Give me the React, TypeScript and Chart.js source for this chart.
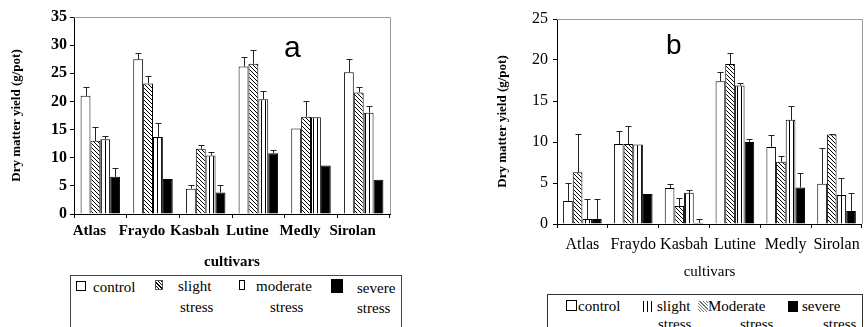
import React, { useEffect, useRef } from "react";
import { Chart, registerables } from "chart.js";
Chart.register(...registerables);

const cultivars = ["Atlas", "Fraydo", "Kasbah", "Lutine", "Medly", "Sirolan"];
const seriesNames = ["control", "slight stress", "moderate stress", "severe stress"];

// Panel a values (g/pot) and upper error bars
const aControl = [21.0, 27.5, 4.5, 26.2, 15.2, 25.2];
const aControlErr = [1.6, 1.1, 0.7, 1.7, 0, 2.3];
const aSlight = [13.0, 23.2, 11.6, 26.7, 17.3, 21.6];
const aSlightErr = [2.5, 1.3, 0.6, 2.5, 2.8, 1.0];
const aModerate = [13.3, 13.7, 10.4, 20.4, 17.2, 18.0];
const aModerateErr = [0.6, 2.4, 0.6, 1.5, 0, 1.2];
const aSevere = [6.6, 6.2, 3.8, 10.8, 8.6, 6.1];
const aSevereErr = [1.6, 0, 1.4, 0.6, 0, 0];

// Panel b values (g/pot) and upper error bars
const bControl = [2.8, 9.75, 4.4, 17.4, 9.4, 4.9];
const bControlErr = [2.2, 1.6, 0.5, 1.1, 1.5, 4.4];
const bSlight = [6.3, 9.75, 2.2, 19.5, 7.6, 10.9];
const bSlightErr = [4.7, 2.2, 1.0, 1.4, 0.7, 0.1];
const bModerate = [0.6, 9.7, 3.8, 16.9, 12.7, 3.55];
const bModerateErr = [2.5, 0, 0.4, 0.3, 1.7, 2.1];
const bSevere = [0.6, 3.65, 0.15, 10.0, 4.45, 1.6];
const bSevereErr = [2.5, 0, 0.4, 0.4, 1.8, 2.2];

const aTicks = [0, 5, 10, 15, 20, 25, 30, 35];
const bTicks = [0, 5, 10, 15, 20, 25];

const SERIF = '"Liberation Serif", "Times New Roman", serif';
const SANS = '"Liberation Sans", Arial, sans-serif';

function makePattern(kind: string): CanvasPattern | string {
  const c = document.createElement("canvas");
  const ctx = c.getContext("2d")!;
  if (kind === "diag") {
    c.width = 4; c.height = 4;
    ctx.fillStyle = "#fff"; ctx.fillRect(0, 0, 4, 4);
    ctx.strokeStyle = "#000"; ctx.lineWidth = 1;
    ctx.beginPath();
    ctx.moveTo(-1, -1); ctx.lineTo(5, 5);
    ctx.moveTo(-1, 3); ctx.lineTo(1, 5);
    ctx.moveTo(3, -1); ctx.lineTo(5, 1);
    ctx.stroke();
  } else if (kind === "vert") {
    c.width = 4; c.height = 2;
    ctx.fillStyle = "#fff"; ctx.fillRect(0, 0, 4, 2);
    ctx.fillStyle = "#000"; ctx.fillRect(1, 0, 1, 2);
  } else {
    return "#fff";
  }
  return ctx.createPattern(c, "repeat")!;
}

type PanelSpec = {
  values: number[][];
  errors: number[][];
  ticks: number[];
  max: number;
  padTop: number;
  padRight: number;
  yWidth: number;
  xHeight: number;
  yTitlePad: number;
  yTickPad: number;
  xTickFont: any;
  xTickPad: number;
  xLabelOffset: number;
  xTitleFont: any;
  yTickFont: any;
  catPct: number;
};

function buildConfig(p: PanelSpec): any {
  const fills = [makePattern("none"), makePattern("diag"), makePattern("vert"), "#000"];
  const errPlugin = {
    id: "errbars",
    afterDatasetsDraw(chart: any) {
      const ctx = chart.ctx;
      const yScale = chart.scales.y;
      ctx.save();
      ctx.strokeStyle = "#222";
      ctx.lineWidth = 1;
      p.errors.forEach((errs, di) => {
        const meta = chart.getDatasetMeta(di);
        errs.forEach((e, i) => {
          if (!e) return;
          const bar = meta.data[i];
          const x = Math.round(bar.x) + 0.5;
          const yTop = yScale.getPixelForValue(p.values[di][i]);
          const yE = Math.round(yScale.getPixelForValue(p.values[di][i] + e)) + 0.5;
          ctx.beginPath();
          ctx.moveTo(x, yTop);
          ctx.lineTo(x, yE);
          ctx.moveTo(x - 3, yE);
          ctx.lineTo(x + 3, yE);
          ctx.stroke();
        });
      });
      ctx.restore();
    },
  };
  const framePlugin = {
    id: "frame",
    beforeDatasetsDraw(chart: any) {
      const { ctx, chartArea: a } = chart;
      ctx.save();
      ctx.strokeStyle = "#9a9a9a";
      ctx.lineWidth = 1;
      ctx.beginPath();
      ctx.moveTo(Math.round(a.left), Math.round(a.top) + 0.5);
      ctx.lineTo(Math.round(a.right) + 0.5, Math.round(a.top) + 0.5);
      ctx.lineTo(Math.round(a.right) + 0.5, Math.round(a.bottom));
      ctx.stroke();
      ctx.restore();
    },
  };
  return {
    type: "bar",
    data: {
      labels: cultivars,
      datasets: p.values.map((v, i) => ({
        label: seriesNames[i],
        data: v,
        backgroundColor: fills[i],
        borderColor: "#000",
        borderWidth: 1,
        borderSkipped: "bottom",
        barPercentage: 1.0,
        categoryPercentage: p.catPct,
      })),
    },
    options: {
      animation: false,
      responsive: false,
      devicePixelRatio: 1,
      layout: { padding: { top: p.padTop, right: p.padRight, left: 0, bottom: 0 } },
      plugins: { legend: { display: false }, tooltip: { enabled: false } },
      scales: {
        x: {
          grid: { drawOnChartArea: false, drawTicks: true, tickLength: 4, color: "#000", offset: true },
          border: { color: "#000", width: 1 },
          ticks: {
            color: "#000",
            font: p.xTickFont,
            padding: p.xTickPad,
            labelOffset: p.xLabelOffset,
            autoSkip: false,
            maxRotation: 0,
            minRotation: 0,
          },
          title: {
            display: true,
            text: "cultivars",
            color: "#000",
            font: p.xTitleFont,
            padding: { top: 0, bottom: 4 },
          },
          afterFit: (s: any) => { s.height = p.xHeight; },
        },
        y: {
          min: 0,
          max: p.max,
          afterBuildTicks: (s: any) => { s.ticks = p.ticks.map((v) => ({ value: v })); },
          grid: { drawOnChartArea: false, drawTicks: true, tickLength: 4, color: "#000" },
          border: { color: "#000", width: 1 },
          ticks: { color: "#000", font: p.yTickFont, padding: p.yTickPad },
          title: {
            display: true,
            text: "Dry matter yield (g/pot)",
            color: "#000",
            font: { family: SERIF, size: 13, weight: "bold" },
            padding: { top: p.yTitlePad, bottom: 0 },
          },
          afterFit: (s: any) => { s.width = p.yWidth; },
        },
      },
    },
    plugins: [framePlugin, errPlugin],
  };
}

function ChartCanvas({ spec, width, height, style }: { spec: PanelSpec; width: number; height: number; style: React.CSSProperties }) {
  const ref = useRef<HTMLCanvasElement>(null);
  useEffect(() => {
    const chart = new Chart(ref.current!, buildConfig(spec));
    return () => chart.destroy();
  }, []);
  return <canvas ref={ref} width={width} height={height} style={{ position: "absolute", width, height, ...style }} />;
}

const abs = (left: number, top: number, extra: React.CSSProperties = {}): React.CSSProperties => ({
  position: "absolute", left, top, ...extra,
});

const diagCss = "repeating-linear-gradient(45deg, #fff 0px, #fff 1.5px, #000 1.5px, #000 2.5px)";
const diagFineCss = "repeating-linear-gradient(45deg, #fff 0px, #fff 1.5px, #777 1.5px, #777 2.3px)";

export default function App() {
  useEffect(() => {
    document.body.style.margin = "0";
  }, []);

  const specA: PanelSpec = {
    values: [aControl, aSlight, aModerate, aSevere],
    errors: [aControlErr, aSlightErr, aModerateErr, aSevereErr],
    ticks: aTicks,
    max: 35,
    padTop: 17,
    padRight: 20,
    yWidth: 74,
    xHeight: 61,
    yTitlePad: 9,
    yTickPad: 3,
    xTickFont: { family: SERIF, size: 15, weight: "bold" },
    xTickPad: 4,
    xLabelOffset: -11,
    xTitleFont: { family: SERIF, size: 15, weight: "bold" },
    yTickFont: { family: SERIF, size: 16, weight: "bold" },
    catPct: 0.75,
  };
  const specB: PanelSpec = {
    values: [bControl, bSlight, bModerate, bSevere],
    errors: [bControlErr, bSlightErr, bModerateErr, bSevereErr],
    ticks: bTicks,
    max: 25,
    padTop: 19,
    padRight: 4,
    yWidth: 117,
    xHeight: 61,
    yTitlePad: 55,
    yTickPad: 5,
    xTickFont: { family: SERIF, size: 16 },
    xTickPad: 7,
    xLabelOffset: 0,
    xTitleFont: { family: SERIF, size: 15 },
    yTickFont: { family: SERIF, size: 16 },
    catPct: 0.76,
  };

  const txtA: React.CSSProperties = { fontFamily: SERIF, fontSize: 15, lineHeight: "17px", color: "#000", whiteSpace: "nowrap" };
  const txtB: React.CSSProperties = { fontFamily: SERIF, fontSize: 15, lineHeight: "17px", color: "#000", whiteSpace: "nowrap" };

  return (
    <div style={{ position: "relative", width: 867, height: 327, overflow: "hidden", background: "#fff" }}>
      <ChartCanvas spec={specA} width={410} height={275} style={{ left: 0, top: 0 }} />
      <ChartCanvas spec={specB} width={427} height={285} style={{ left: 440, top: 0 }} />

      <div style={abs(284, 32, { fontFamily: SANS, fontSize: 30, lineHeight: "30px" })}>a</div>
      <div style={abs(666, 31, { fontFamily: SANS, fontSize: 28, lineHeight: "28px" })}>b</div>

      {/* Legend a */}
      <div style={abs(70, 275, { width: 332, height: 70, border: "1px solid #444", boxSizing: "border-box" })} />
      <div style={abs(76, 281, { width: 10, height: 10, border: "1px solid #000", background: "#fff", boxSizing: "border-box" })} />
      <div style={abs(93, 279, txtA)}>control</div>
      <div style={abs(155, 280, { width: 8, height: 10, border: "1px solid #555", background: diagCss, boxSizing: "border-box" })} />
      <div style={abs(178, 278, txtA)}>slight</div>
      <div style={abs(180, 299, txtA)}>stress</div>
      <div style={abs(239, 280, { width: 6, height: 10, border: "1px solid #000", background: "#fff", boxSizing: "border-box" })} />
      <div style={abs(256, 278, txtA)}>moderate</div>
      <div style={abs(270, 299, txtA)}>stress</div>
      <div style={abs(331, 279, { width: 12, height: 14, background: "#000" })} />
      <div style={abs(357, 280, txtA)}>severe</div>
      <div style={abs(357, 300, txtA)}>stress</div>

      {/* Legend b */}
      <div style={abs(547, 294, { width: 316, height: 60, border: "1px solid #333", boxSizing: "border-box" })} />
      <div style={abs(566, 300, { width: 11, height: 11, border: "1px solid #000", background: "#fff", boxSizing: "border-box" })} />
      <div style={abs(578, 298, txtB)}>control</div>
      <div style={abs(643, 301, { width: 12, height: 11, background: "repeating-linear-gradient(90deg, #000 0px, #000 1.5px, #fff 1.5px, #fff 4px)" })} />
      <div style={abs(657, 298, txtB)}>slight</div>
      <div style={abs(658, 316, txtB)}>stress</div>
      <div style={abs(698, 301, { width: 10, height: 11, background: diagFineCss })} />
      <div style={abs(708, 298, txtB)}>Moderate</div>
      <div style={abs(740, 316, txtB)}>stress</div>
      <div style={abs(788, 301, { width: 10, height: 11, background: "#000" })} />
      <div style={abs(802, 298, txtB)}>severe</div>
      <div style={abs(823, 316, txtB)}>stress</div>
    </div>
  );
}
